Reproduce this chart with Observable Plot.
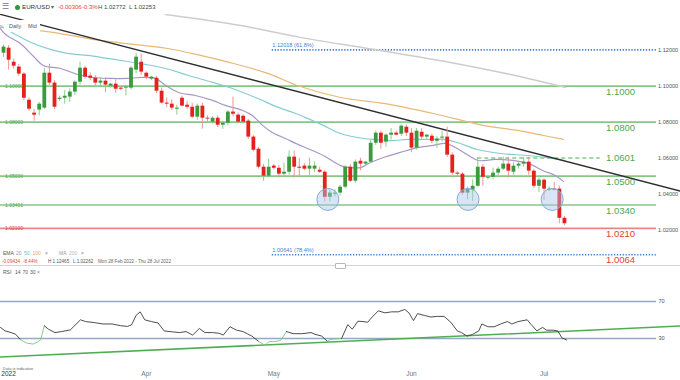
<!DOCTYPE html>
<html><head><meta charset="utf-8">
<script src="https://cdn.jsdelivr.net/npm/d3@7"></script>
<script src="https://cdn.jsdelivr.net/npm/@observablehq/plot@0.6"></script>
<style>
body{margin:0;background:#fff;font-family:"Liberation Sans",Arial,sans-serif;}
#wrap{position:relative;width:680px;height:380px;overflow:hidden;background:#fff;}
#wrap svg{position:absolute;left:0;}
.t{position:absolute;white-space:nowrap;line-height:1;}
</style></head><body><div id="wrap"></div>
<script>
// ---------------- data ----------------
// Daily candles (Mon 28 Feb 2022 -> Wed 6 Jul 2022, incl. Sunday candles), one entry per candle
const opens  = [1.1183,1.1211,1.1133,1.1106,1.1067,1.0922,1.0850,1.0867,1.0878,1.1072,1.1017,1.0926,1.0933,1.0939,1.0967,1.1022,1.1100,1.1056,1.1044,1.1017,1.1028,1.1000,1.1011,1.0989,1.0989,1.0989,1.1089,1.1133,1.1072,1.1039,1.1044,1.0972,1.0906,1.0900,1.0872,1.0933,1.0894,1.0883,1.0828,1.0889,1.0822,1.0800,1.0822,1.0783,1.0794,1.0856,1.0839,1.0833,1.0806,1.0717,1.0650,1.0550,1.0500,1.0556,1.0544,1.0511,1.0522,1.0606,1.0550,1.0556,1.0539,1.0539,1.0533,1.0522,1.0383,1.0400,1.0406,1.0439,1.0550,1.0472,1.0583,1.0567,1.0578,1.0683,1.0739,1.0689,1.0728,1.0739,1.0733,1.0772,1.0739,1.0656,1.0744,1.0717,1.0722,1.0694,1.0711,1.0717,1.0617,1.0517,1.0511,1.0406,1.0422,1.0444,1.0550,1.0489,1.0494,1.0517,1.0539,1.0567,1.0522,1.0556,1.0567,1.0578,1.0528,1.0444,1.0478,1.0422,1.0428,1.0428,1.0266];
const highs  = [1.1228,1.1225,1.1150,1.1120,1.1075,1.0935,1.0870,1.0910,1.1100,1.1122,1.1030,1.0945,1.0975,1.0985,1.1030,1.1133,1.1110,1.1075,1.1060,1.1045,1.1045,1.1015,1.1035,1.1000,1.1005,1.1110,1.1183,1.1178,1.1080,1.1055,1.1055,1.0990,1.0935,1.0925,1.0894,1.0945,1.0915,1.0905,1.0900,1.0905,1.0835,1.0830,1.0835,1.0805,1.0865,1.0939,1.0850,1.0840,1.0815,1.0725,1.0660,1.0565,1.0594,1.0565,1.0560,1.0572,1.0640,1.0640,1.0600,1.0570,1.0600,1.0580,1.0550,1.0530,1.0420,1.0425,1.0450,1.0560,1.0565,1.0590,1.0600,1.0580,1.0700,1.0750,1.0750,1.0735,1.0765,1.0750,1.0786,1.0785,1.0765,1.0765,1.0765,1.0730,1.0735,1.0720,1.0750,1.0772,1.0630,1.0525,1.0520,1.0440,1.0480,1.0601,1.0565,1.0500,1.0545,1.0550,1.0605,1.0605,1.0575,1.0575,1.0605,1.0605,1.0535,1.0490,1.0485,1.0440,1.0465,1.0445,1.0277];
const lows   = [1.1160,1.1089,1.1095,1.1055,1.0920,1.0860,1.0806,1.0835,1.0870,1.1005,1.0870,1.0915,1.0900,1.0910,1.0950,1.1005,1.1040,1.1030,1.1000,1.0990,1.0965,1.0990,1.0960,1.0975,1.0945,1.0980,1.1070,1.1060,1.1035,1.1030,1.0960,1.0900,1.0880,1.0865,1.0839,1.0885,1.0870,1.0820,1.0810,1.0761,1.0800,1.0790,1.0770,1.0760,1.0780,1.0830,1.0790,1.0790,1.0705,1.0635,1.0540,1.0472,1.0490,1.0535,1.0490,1.0495,1.0505,1.0490,1.0494,1.0530,1.0505,1.0520,1.0515,1.0356,1.0356,1.0385,1.0390,1.0430,1.0465,1.0460,1.0530,1.0560,1.0570,1.0670,1.0650,1.0660,1.0700,1.0725,1.0720,1.0720,1.0630,1.0645,1.0700,1.0705,1.0680,1.0655,1.0690,1.0605,1.0505,1.0495,1.0395,1.0370,1.0360,1.0440,1.0445,1.0480,1.0480,1.0500,1.0530,1.0490,1.0505,1.0540,1.0550,1.0505,1.0430,1.0410,1.0365,1.0415,1.0420,1.0236,1.0225];
const closes = [1.1217,1.1144,1.1111,1.1067,1.0933,1.0872,1.0839,1.0900,1.1072,1.1017,1.0883,1.0933,1.0944,1.0967,1.1022,1.1100,1.1050,1.1044,1.1017,1.1028,1.1006,1.1011,1.0983,1.0983,1.0994,1.1100,1.1161,1.1078,1.1050,1.1050,1.0972,1.0906,1.0900,1.0878,1.0878,1.0889,1.0883,1.0828,1.0889,1.0822,1.0817,1.0822,1.0783,1.0794,1.0856,1.0844,1.0800,1.0800,1.0717,1.0644,1.0550,1.0500,1.0550,1.0544,1.0511,1.0522,1.0606,1.0550,1.0544,1.0539,1.0556,1.0556,1.0522,1.0383,1.0406,1.0406,1.0439,1.0550,1.0472,1.0578,1.0567,1.0578,1.0683,1.0739,1.0683,1.0728,1.0739,1.0728,1.0778,1.0739,1.0656,1.0750,1.0717,1.0728,1.0694,1.0706,1.0717,1.0617,1.0517,1.0511,1.0406,1.0428,1.0444,1.0550,1.0494,1.0494,1.0517,1.0539,1.0567,1.0528,1.0556,1.0567,1.0578,1.0528,1.0444,1.0478,1.0428,1.0428,1.0422,1.0266,1.0236];

// month tick labels (candle index -> label)
const monthTickIdx    = [1, 28, 53, 80, 106];
const monthTickLabels = ["2022", "Apr", "May", "Jun", "Jul"];

// moving averages (candle index, price)
const ema20Idx = [-0.6,0.4,3.3,5.9,7.8,11.2,14.5,17.6,21,24.3,26.9,29.8,31.8,34.3,37.6,41,43.5,46.9,48.8,50.8,52.7,55.3,57.3,59.6,62.7,66.1,68,70,72,74.5,77.8,81.2,84.3,86.7,88.6,91.2,93.1,96.5,99.8,102.9,105.7,108.2,109.8];
const ema20Val = [1.1320,1.1287,1.1237,1.1165,1.1115,1.1098,1.1065,1.1048,1.1043,1.1043,1.1048,1.1043,1.1004,1.0965,1.0948,1.0921,1.0893,1.0865,1.0837,1.0782,1.0743,1.0709,1.0682,1.0654,1.0615,1.0559,1.0548,1.0548,1.0576,1.0604,1.0632,1.0659,1.0671,1.0682,1.0659,1.0615,1.0587,1.0593,1.0588,1.0571,1.0532,1.0504,1.0471];
const ema50Idx = [-0.6,2,5.9,9.2,12.5,16.5,20.4,24.3,27.8,31.8,36.3,41,44.9,49.4,53.9,57.3,59.6,62.7,66.1,69.4,72.5,75.9,79.2,82.4,86.3,89,92.9,97.5,102.7,106.3,110];
const ema50Val = [1.1337,1.1293,1.1237,1.1204,1.1182,1.1171,1.1154,1.1137,1.1121,1.1098,1.1059,1.1021,1.0987,1.0937,1.0882,1.0848,1.0821,1.0782,1.0737,1.0715,1.0704,1.0698,1.0704,1.0704,1.0704,1.0687,1.0648,1.0626,1.0615,1.0604,1.0587];
const ema100Idx = [-0.6,8.2,13.1,19,25.5,32.2,38.6,45.1,51.8,58.2,66.1,74.5,84.3,94.1,100.8,105.9,109.8];
const ema100Val = [1.1326,1.1304,1.1282,1.1254,1.1232,1.1209,1.1171,1.1126,1.1071,1.0998,1.0937,1.0904,1.0848,1.0782,1.0754,1.0726,1.0704];
const ma200Idx = [31.8,46.5,58.2,73.9,87.6,99.4,110.2];
const ma200Val = [1.1398,1.1337,1.1271,1.1198,1.1132,1.1065,1.0993];

// descending trendline anchors
const trendIdx = [-0.6, 132.8];
const trendVal = [1.1399, 1.0417];

// horizontal levels
const levelPrices      = [1.1000, 1.0800, 1.0500, 1.0340, 1.0210];
const levelLeftLabels  = ["1.10000", "1.08000", "1.05000", "1.03401", "1.02100"];
const levelRightLabels = ["1.1000", "1.0800", "1.0500", "1.0340", "1.0210"];
const levelKinds       = ["support", "support", "support", "support", "resistance"];

// fibonacci levels
const fibPrices = [1.12018, 1.00641];
const fibLabels = ["1.12018 (61.8%)", "1.00641 (78.4%)"];
const fibRightLabels = ["", "1.0064"];
const fibStartIdx = 52.7;

// dashed swing-high level
const swingPrice = 1.0601, swingStartIdx = 93, swingEndIdx = 117, swingLabel = "1.0601";

// highlighted double-bottom touches
const circleIdx   = [63.6, 91.1, 107.6];
const circlePrice = [1.0371, 1.0371, 1.0371];

// right price axis
const axisTicks = [1.12, 1.10, 1.08, 1.06, 1.04, 1.02];
const lastPrice = 1.02358;
const labelIdx = 121;

// RSI (candle index, value)
const rsiIdx = [-0.6,0.3,1.5,2.4,3.3,4.5,5.8,6.7,7.3,8.0,8.8,10.1,11.4,13.1,15.1,16.1,17.8,19.5,21.3,23,24.3,25.1,26,26.8,27.7,29,30.3,31.5,33.3,34.5,35.8,37.1,38.4,39.5,41,42.3,43.1,44.4,45.7,47,47.8,48.7,50,51.3,52.1,53,54.3,55.5,56.8,58.5,60.3,61.1,62.4,63.5,64.1,65,66.3,67.5,68.4,69.5,70.5,71.4,72.3,73.5,74.8,76.1,77.4,78.7,79.5,80.4,81.2,82.5,83.8,85.1,86.4,87.7,89,89.8,90.9,92,93.2,93.8,95,96.2,97.5,98.8,99.7,100.9,102.7,103.5,104.6,105.7,106.5,107.8,108.7,109.5,110.4];
const rsiVal = [42.0,38.2,36.4,34.5,28.9,25.1,24.0,26.3,28.9,43.8,40.1,36.4,37.5,39.3,50.2,48.3,47.2,45.7,45.7,43.8,43.1,44.6,55.0,58.8,50.2,48.3,46.8,38.2,37.1,36.4,37.5,33.7,40.8,36.4,36.4,35.6,33.7,42.7,39.0,37.5,35.2,32.6,27.0,22.5,27.0,26.6,27.8,37.5,35.2,35.2,36.4,34.5,32.6,27.0,28.9,29.6,30.0,45.0,40.1,48.7,48.3,47.6,53.2,59.9,57.7,58.8,58.8,61.4,57.7,49.4,56.9,55.0,53.2,53.9,53.9,47.6,38.2,36.4,32.6,34.5,38.2,45.7,42.7,42.7,45.7,48.3,45.7,48.3,50.2,45.0,38.2,42.0,39.0,39.0,38.2,30.7,28.5];
const rsiBands = [70, 30];
const rsiTrendIdx = [-0.6, 132.8];
const rsiTrendVal = [10, 43.5];

// ---------------- build ----------------
const FONT = "Liberation Sans, Arial, sans-serif";
const GREEN = "#3b9a3d", RED = "#e4211d";
const GREEN_WICK = "#8fcb8f", RED_WICK = "#f09595";
const LEVEL_GREEN = "#86c786", LEVEL_RED = "#e98585";
const X_DOMAIN = [-0.59, 128.05];
const Y_DOMAIN = [1.0004, 1.1398];
const RSI_DOMAIN = [-2.4, 107.8];

const candles = opens.map((o, i) => ({i, o, h: highs[i], l: lows[i], c: closes[i]}));
const up = candles.filter(d => d.c >= d.o);
const dn = candles.filter(d => d.c < d.o);
const pts = (idx, val) => idx.map((i, k) => ({i, p: val[k]}));
const levels = levelPrices.map((p, k) => ({
  p, left: levelLeftLabels[k], right: levelRightLabels[k],
  color: levelKinds[k] === "support" ? LEVEL_GREEN : LEVEL_RED,
  text: levelKinds[k] === "support" ? "#4fa84f" : "#e0413a"
}));
const fibs = fibPrices.map((p, k) => ({p, label: fibLabels[k], right: fibRightLabels[k], start: fibStartIdx}));
const circles = circleIdx.map((i, k) => ({i, p: circlePrice[k]}));

const main = Plot.plot({
  width: 680, height: 265,
  marginTop: 14, marginBottom: 0, marginLeft: 0, marginRight: 24,
  style: {fontFamily: FONT, background: "transparent"},
  color: {type: "identity"},
  x: {domain: X_DOMAIN, axis: null},
  y: {domain: Y_DOMAIN, axis: null},
  marks: [
    Plot.ruleY(levels, {y: "p", stroke: "color", strokeWidth: 1.7}),
    Plot.ruleY(fibs, {y: "p", x1: "start", x2: () => X_DOMAIN[1], stroke: "#3f7fd0", strokeWidth: 1.6, strokeDasharray: "1.3,1.6"}),
    Plot.ruleY([swingPrice], {y: d => d, x1: () => swingStartIdx, x2: () => swingEndIdx, stroke: LEVEL_GREEN, strokeWidth: 1.7, strokeDasharray: "4,3"}),
    Plot.line(pts(ma200Idx, ma200Val), {x: "i", y: "p", stroke: "#cdcdcd", strokeWidth: 1.5, curve: "catmull-rom"}),
    Plot.line(pts(ema100Idx, ema100Val), {x: "i", y: "p", stroke: "#e9b877", strokeWidth: 1.2, curve: "catmull-rom"}),
    Plot.line(pts(ema50Idx, ema50Val), {x: "i", y: "p", stroke: "#86cdd3", strokeWidth: 1.2, curve: "catmull-rom"}),
    Plot.line(pts(ema20Idx, ema20Val), {x: "i", y: "p", stroke: "#a497c6", strokeWidth: 1.2, curve: "catmull-rom"}),
    Plot.line(pts(trendIdx, trendVal), {x: "i", y: "p", stroke: "#2e2e2e", strokeWidth: 1.4}),
    Plot.ruleX(up, {x: "i", y1: "l", y2: "h", stroke: GREEN_WICK, strokeWidth: 1}),
    Plot.ruleX(dn, {x: "i", y1: "l", y2: "h", stroke: RED_WICK, strokeWidth: 1}),
    Plot.ruleX(up, {x: "i", y1: "o", y2: "c", stroke: GREEN, strokeWidth: 3.8}),
    Plot.ruleX(dn, {x: "i", y1: "o", y2: "c", stroke: RED, strokeWidth: 3.8}),
    Plot.dot(circles, {x: "i", y: "p", r: 11, fill: "#a9c6ea", fillOpacity: 0.45, stroke: "#86acd8", strokeWidth: 1}),
    // left level tags
    Plot.text(levels, {y: "p", text: "left", frameAnchor: "left", textAnchor: "start", dx: 4.5, fill: "text", fontSize: 5, ariaLabel: "lbox"}),
    // right level labels
    Plot.text(levels, {x: () => labelIdx, y: "p", text: "right", dy: 5.5, fill: "text", fontSize: 9.5}),
    Plot.text([swingPrice], {x: () => labelIdx, y: d => d, text: () => swingLabel, fill: "#4fa84f", fontSize: 9.5}),
    Plot.text(fibs.filter(d => d.right), {x: () => labelIdx, y: "p", text: "right", dy: 5.5, fill: "#e0413a", fontSize: 9.5}),
    // fib labels
    Plot.text(fibs, {x: "start", y: "p", text: "label", textAnchor: "start", dy: -4.5, fill: "#3f7fd0", fontSize: 5.6}),
    // right price axis
    Plot.text(axisTicks, {y: d => d, text: d => d.toFixed(5), frameAnchor: "right", textAnchor: "start", dx: 1.5, fill: "#555", fontSize: 5.6}),
    Plot.text([lastPrice], {y: d => d, text: d => d.toFixed(5), frameAnchor: "right", textAnchor: "start", dx: 2, fill: "#fff", fontSize: 5.6, ariaLabel: "pbox"})
  ]
});

const rsiData = rsiIdx.map((i, k) => ({i, v: rsiVal[k]}));
const rsiPlot = Plot.plot({
  width: 680, height: 114,
  marginTop: 0, marginBottom: 12, marginLeft: 0, marginRight: 24,
  style: {fontFamily: FONT, background: "transparent"},
  color: {type: "identity"},
  x: {domain: X_DOMAIN, axis: null},
  y: {domain: RSI_DOMAIN, axis: null},
  marks: [
    Plot.ruleY(rsiBands, {y: d => d, stroke: "#95aac2", strokeWidth: 1.3}),
    Plot.text(rsiBands, {y: d => d, text: d => String(d), frameAnchor: "right", textAnchor: "start", dx: 2, fill: "#555", fontSize: 5.6}),
    Plot.line(rsiTrendIdx.map((i, k) => ({i, v: rsiTrendVal[k]})), {x: "i", y: "v", stroke: "#52ad52", strokeWidth: 1.5}),
    Plot.line(rsiData, {x: "i", y: "v", z: null, stroke: d => d.v < 30 ? "#7cc67c" : "#3a3a3a", strokeWidth: 0.9}),
    Plot.text(monthTickIdx, {x: d => d, frameAnchor: "bottom", dy: 7.5, text: (d, k) => monthTickLabels[k], fill: (d, k) => k === 0 ? "#333" : "#777", fontSize: 6.5})
  ]
});

const wrap = document.getElementById("wrap");
main.style.top = "0px";
rsiPlot.style.top = "266px";
wrap.appendChild(main);
wrap.appendChild(rsiPlot);

function boxify(svg, label, fill, stroke, padX, padY) {
  svg.querySelectorAll(`g[aria-label="${label}"] text`).forEach(t => {
    const b = t.getBBox();
    const r = document.createElementNS("http://www.w3.org/2000/svg", "rect");
    r.setAttribute("x", b.x - padX); r.setAttribute("y", b.y - padY);
    r.setAttribute("width", b.width + 2 * padX); r.setAttribute("height", b.height + 2 * padY);
    r.setAttribute("rx", 1.2); r.setAttribute("fill", fill);
    r.setAttribute("stroke", stroke || "none"); r.setAttribute("stroke-width", 0.8);
    const tr = t.getAttribute("transform"); if (tr) r.setAttribute("transform", tr);
    t.parentNode.insertBefore(r, t);
  });
}
boxify(main, "lbox", "#fff", "#cfcfcf", 2.2, 0.2);
boxify(main, "pbox", "#3e4c63", null, 2, 0.6);

// ---------------- html text overlays ----------------
function txt(s, left, top, size, color, extra) {
  const d = document.createElement("div");
  d.className = "t"; d.textContent = s;
  d.style.left = left + "px"; d.style.top = top + "px";
  d.style.fontSize = size + "px"; d.style.color = color;
  if (extra) Object.assign(d.style, extra);
  wrap.appendChild(d); return d;
}
// header
const hdr = document.createElement("div");
Object.assign(hdr.style, {position: "absolute", left: "0", top: "0", width: "680px", height: "14px", background: "#fff"});
wrap.appendChild(hdr);
txt("☰", 2, 2.5, 8, "#777");
const dot = document.createElement("div");
Object.assign(dot.style, {position: "absolute", left: "15px", top: "4.5px", width: "5px", height: "5px", borderRadius: "50%", background: "#2c9a3c"});
wrap.appendChild(dot);
txt("EUR/USD", 22, 4, 6.2, "#333");
txt("▾", 51, 4, 6, "#666");
txt("-0.00306", 58, 4, 6, "#e2453c");
txt("-0.3%", 82, 4, 6, "#e2453c");
txt("H 1.02772", 98, 4, 6, "#444");
txt("L 1.02253", 129, 4, 6, "#444");
// Daily / Mid box
const dm = document.createElement("div");
Object.assign(dm.style, {position: "absolute", left: "4px", top: "20px", width: "36px", height: "12px", background: "#fff"});
wrap.appendChild(dm);
txt("Daily", 9, 23.5, 5.5, "#555");
txt("Mid", 28, 23.5, 5.5, "#555");
// indicator legend
txt("EMA", 3, 250.5, 5, "#555");
txt("20", 16, 250.5, 5, "#9a8cc4");
txt("50", 24, 250.5, 5, "#5fbfca");
txt("100", 32.5, 250.5, 5, "#e3a652");
txt("×", 45, 250.5, 5, "#888");
txt("MA", 59, 250.5, 5, "#999");
txt("200", 69, 250.5, 5, "#bbb");
txt("×", 81, 250.5, 5, "#888");
txt("-0.09434", 2, 259.5, 4.6, "#e2453c");
txt("-8.44%", 23, 259.5, 4.6, "#e2453c");
txt("H 1.12465", 48, 259.5, 4.6, "#555");
txt("L 1.02262", 73, 259.5, 4.6, "#555");
txt("Mon 28 Feb 2022 - Thu 28 Jul 2022", 98, 259.5, 4.6, "#666");
const sep = document.createElement("div");
Object.assign(sep.style, {position: "absolute", left: "0", top: "265px", width: "680px", height: "1px", background: "#d4d4d4"});
wrap.appendChild(sep);
const handle = document.createElement("div");
Object.assign(handle.style, {position: "absolute", left: "335px", top: "263px", width: "9px", height: "4px", background: "#fff", border: "1px solid #b8b8b8", borderRadius: "1px"});
wrap.appendChild(handle);
txt("RSI", 3, 269.5, 5, "#555");
txt("14", 15, 269.5, 5, "#555");
txt("70", 22.5, 269.5, 5, "#555");
txt("30", 30, 269.5, 5, "#555");
txt("×", 37, 269.5, 5, "#888");
txt("Data is indicative", 3, 367, 4, "#666");
</script>
</body></html>
